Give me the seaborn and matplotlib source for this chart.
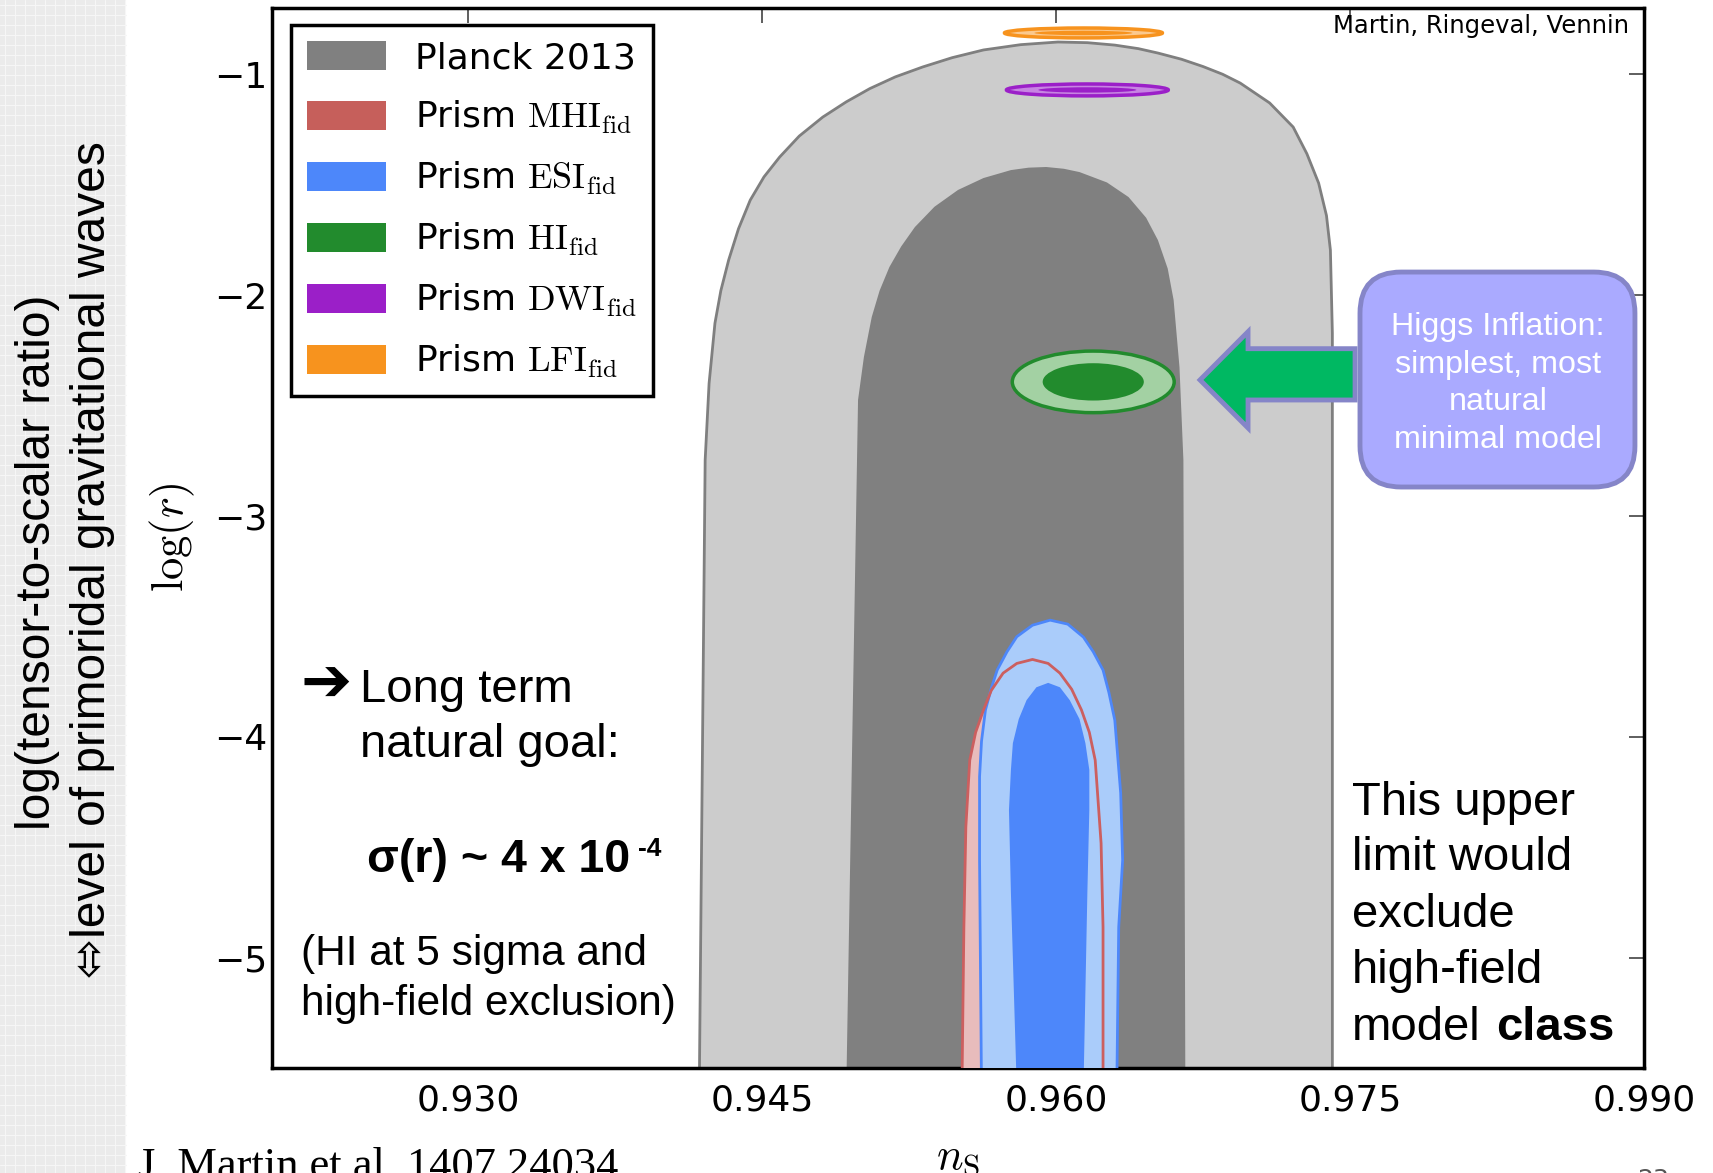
import numpy as np
import matplotlib
matplotlib.use("Agg")
import matplotlib.pyplot as plt
import seaborn as sns
from matplotlib.patches import Ellipse, Patch, Polygon, FancyBboxPatch, Rectangle
from matplotlib.lines import Line2D

W, H = 1713, 1173

# Planck 2013 contours, boundary traced left side (bottom->top) then right side
planck95_ns = [0.9418, 0.9421, 0.9423, 0.9426, 0.9429, 0.9433, 0.9438, 0.9444, 0.9451, 0.9459,
               0.9469, 0.9481, 0.9493, 0.9505, 0.9518, 0.9532, 0.9547, 0.9563, 0.9582, 0.9601,
               0.9616, 0.9630, 0.9642, 0.9652, 0.9664, 0.9675, 0.9685, 0.9694, 0.9709, 0.9721,
               0.9728, 0.9734, 0.9738, 0.9740, 0.9741, 0.9741]
planck95_logr = [-5.6, -2.747, -2.40, -2.127, -1.98, -1.841, -1.70, -1.570, -1.465, -1.375,
                 -1.28, -1.194, -1.125, -1.065, -1.012, -0.967, -0.925, -0.890, -0.866, -0.854,
                 -0.857, -0.868, -0.884, -0.904, -0.932, -0.965, -1.00, -1.040, -1.13, -1.239,
                 -1.36, -1.493, -1.64, -1.796, -2.172, -5.6]
planck68_ns = [0.9493, 0.9499, 0.9502, 0.9506, 0.9510, 0.9515, 0.9521, 0.9528, 0.9538, 0.9550,
               0.9563, 0.9577, 0.9586, 0.9595, 0.9604, 0.9612, 0.9626, 0.9637, 0.9646, 0.9652,
               0.9657, 0.9660, 0.9663, 0.9665, 0.9666]
planck68_logr = [-5.6, -2.475, -2.28, -2.099, -1.98, -1.873, -1.78, -1.692, -1.60, -1.524,
                 -1.47, -1.434, -1.423, -1.420, -1.428, -1.443, -1.49, -1.556, -1.65, -1.751,
                 -1.88, -2.022, -2.326, -2.747, -5.6]

# Prism forecasts
mhi95_ns = [0.9552, 0.9553, 0.9554, 0.9556, 0.9559, 0.9563, 0.9567, 0.9573, 0.9580, 0.9588,
            0.9596, 0.9602, 0.9608, 0.9613, 0.9617, 0.9620, 0.9623, 0.9624, 0.9624]
mhi95_logr = [-5.6, -4.862, -4.409, -4.106, -3.98, -3.879, -3.79, -3.712, -3.668, -3.650,
              -3.668, -3.712, -3.785, -3.879, -3.98, -4.106, -4.482, -4.862, -5.6]
esi95_ns = [0.9562, 0.9561, 0.9561, 0.9562, 0.9564, 0.9567, 0.9570, 0.9575, 0.9580, 0.9588,
            0.9597, 0.9606, 0.9614, 0.9619, 0.9624, 0.9627, 0.9630, 0.9633, 0.9634, 0.9632,
            0.9631]
esi95_logr = [-5.6, -4.559, -4.181, -4.02, -3.879, -3.78, -3.698, -3.615, -3.547, -3.495,
              -3.472, -3.490, -3.549, -3.615, -3.698, -3.80, -3.925, -4.255, -4.559, -4.862,
              -5.6]
esi68_ns = [0.9580, 0.9577, 0.9576, 0.9577, 0.9578, 0.9581, 0.9585, 0.9590, 0.9596, 0.9602,
            0.9607, 0.9612, 0.9615, 0.9617, 0.9617, 0.9616, 0.9614]
esi68_logr = [-5.6, -4.708, -4.332, -4.15, -4.029, -3.92, -3.834, -3.776, -3.756, -3.776,
              -3.834, -3.92, -4.029, -4.15, -4.332, -4.708, -5.6]

# ellipse forecasts: centre n_s, centre log r, widths/heights (95%, 68%)
ell_names = ["HI", "DWI", "LFI"]
ell_ns = [0.9619, 0.9616, 0.9614]
ell_logr = [-2.393, -1.071, -0.813]
ell_w95 = [0.00826, 0.00826, 0.00806]
ell_h95 = [0.279, 0.054, 0.045]
ell_w68 = [0.00516, 0.0050, 0.0050]
ell_h68 = [0.169, 0.024, 0.020]
ell_dark = ["#228b2d", "#9b1fc8", "#f7931e"]
ell_light = ["#a3d1a3", "#c784e2", "#fbc98e"]

legend_labels = ["Planck 2013",
                 r"Prism $\mathrm{MHI}_{\mathrm{fid}}$",
                 r"Prism $\mathrm{ESI}_{\mathrm{fid}}$",
                 r"Prism $\mathrm{HI}_{\mathrm{fid}}$",
                 r"Prism $\mathrm{DWI}_{\mathrm{fid}}$",
                 r"Prism $\mathrm{LFI}_{\mathrm{fid}}$"]
legend_colors = ["#808080", "#c65f5b", "#4d87fa", "#228b2d", "#9b1fc8", "#f7931e"]

xticks = [0.930, 0.945, 0.960, 0.975, 0.990]
yticks = [-1, -2, -3, -4, -5]

sns.set_theme(style="white")
plt.rcParams["font.family"] = ["DejaVu Sans"]
plt.rcParams["mathtext.fontset"] = "cm"
plt.rcParams["text.color"] = "black"
plt.rcParams["axes.labelcolor"] = "black"
SANS = ["Liberation Sans", "DejaVu Sans"]


def fx(px):
    return px / W


def fy(py):
    return 1 - py / H


fig = plt.figure(figsize=(W / 100, H / 100), dpi=100, facecolor="white")

# slide background strip on the left
fig.patches.append(Rectangle((0, 0), 126 / W, 1, transform=fig.transFigure,
                             facecolor="#ebebeb", edgecolor="none", zorder=-10))
for gx in np.arange(5, 126, 10):
    fig.add_artist(Line2D([fx(gx), fx(gx)], [0, 1], color="#f6f6f6", lw=0.8, zorder=-9))
for gy in np.arange(5, H, 10):
    fig.add_artist(Line2D([0, fx(126)], [fy(gy), fy(gy)], color="#f6f6f6", lw=0.8, zorder=-9))

ax = fig.add_axes([272 / W, 1 - 1068 / H, 1372 / W, 1060 / H])
ax.set_facecolor("white")

ax.fill(planck95_ns, planck95_logr, facecolor="#cccccc", edgecolor="#7f7f7f", lw=2, zorder=1)
ax.fill(planck68_ns, planck68_logr, facecolor="#808080", edgecolor="none", zorder=2)

ax.fill(mhi95_ns, mhi95_logr, facecolor="#e8bcbc", edgecolor="none", zorder=3)
ax.fill(esi95_ns, esi95_logr, facecolor="#aaccfa", edgecolor="#4d87fa", lw=2, zorder=4)
ax.fill(esi68_ns, esi68_logr, facecolor="#4d87fa", edgecolor="none", zorder=5)
ax.plot(mhi95_ns, mhi95_logr, color="#cc5f5f", lw=2, zorder=6)

for i in range(len(ell_names)):
    ax.add_patch(Ellipse((ell_ns[i], ell_logr[i]), ell_w95[i], ell_h95[i],
                         facecolor=ell_light[i], edgecolor=ell_dark[i], lw=2.5, zorder=7))
    ax.add_patch(Ellipse((ell_ns[i], ell_logr[i]), ell_w68[i], ell_h68[i],
                         facecolor=ell_dark[i], edgecolor="none", zorder=7))

ax.set_xlim(0.92, 0.99)
ax.set_ylim(-5.5, -0.7)
ax.set_xticks(xticks)
ax.set_xticklabels(["%.3f" % t for t in xticks])
ax.set_yticks(yticks)
ax.tick_params(direction="in", top=True, right=True, length=11, width=1.1,
               color="#333333", labelsize=26, labelcolor="black")
ax.tick_params(axis="x", pad=11)
ax.tick_params(axis="y", pad=3.5)
for s in ax.spines.values():
    s.set_linewidth(2.5)
    s.set_color("black")

ax.set_xlabel(r"$n_{\rm S}$", fontsize=32)
ax.xaxis.set_label_coords(0.5, -0.064)
ax.set_ylabel(r"$\log(r)$", fontsize=32)
ax.yaxis.set_label_coords(-0.055, 0.5)

handles = [Patch(facecolor=c, edgecolor="none") for c in legend_colors]
leg = ax.legend(handles, legend_labels, loc="upper left", bbox_to_anchor=(0.0136, 0.984),
                borderaxespad=0, fontsize=26, frameon=True, fancybox=False, framealpha=1,
                edgecolor="black", handlelength=2.2, handleheight=0.85, handletextpad=0.8,
                labelspacing=0.66, borderpad=0.45)
leg.get_frame().set_linewidth(2.5)
leg.set_zorder(20)

ax.text(1 - 15 / 1372, 1 - 6 / 1060, "Martin, Ringeval, Vennin", transform=ax.transAxes,
        ha="right", va="top", fontsize=17.5, zorder=20)

# call-out arrow and box for Higgs inflation
arrow_pts = [(0.6764, 0.6491), (0.7114, 0.6946), (0.7114, 0.6786), (0.7894, 0.6786),
             (0.7894, 0.6302), (0.7114, 0.6302), (0.7114, 0.6038)]
ax.add_patch(Polygon(arrow_pts, closed=True, transform=ax.transAxes, facecolor="#00b862",
                     edgecolor="#8585c8", lw=3.5, zorder=8, clip_on=False))
ax.add_patch(FancyBboxPatch((0.7930, 0.5481), 0.2004, 0.2028, transform=ax.transAxes,
                            boxstyle="round,pad=0,rounding_size=0.03",
                            mutation_aspect=1372 / 1060, facecolor="#aaaaff",
                            edgecolor="#8585c8", lw=3.5, zorder=9, clip_on=False))
for line, b in zip(["Higgs Inflation:", "simplest, most", "natural", "minimal model"],
                   [335, 373, 410, 448]):
    fig.text(fx(1498), fy(b), line, ha="center", va="baseline", color="white",
             fontsize=23.2, family=SANS)

# slide annotations
fig.text(fx(38), fy(562), "log(tensor-to-scalar ratio)", rotation=90, ha="center",
         va="center", fontsize=34.5, family=SANS)
fig.text(fx(93), fy(560), "\u2b04level of primoridal gravitational waves", rotation=90,
         ha="center", va="center", fontsize=34.5, family=SANS)

fig.text(fx(300), fy(685), "\u2794", fontsize=44, family=["DejaVu Sans"], fontweight="bold",
         va="center")
fig.text(fx(360), fy(702), "Long term", fontsize=34, family=SANS, va="baseline")
fig.text(fx(360), fy(757), "natural goal:", fontsize=34, family=SANS, va="baseline")
fig.text(fx(367), fy(872), "\u03c3(r) ~ 4 x 10", fontsize=33.5, family=SANS,
         fontweight="bold", va="baseline")
fig.text(fx(638), fy(856), "-4", fontsize=19, family=SANS, fontweight="bold", va="baseline")
fig.text(fx(301), fy(965), "(HI at 5 sigma and", fontsize=30.5, family=SANS, va="baseline")
fig.text(fx(301), fy(1015), "high-field exclusion)", fontsize=30.5, family=SANS, va="baseline")

for line, b in zip(["This upper", "limit would", "exclude", "high-field", "model"],
                   [815, 870, 927, 983, 1040]):
    fig.text(fx(1352), fy(b), line, fontsize=34, family=SANS, va="baseline")
fig.text(fx(1496), fy(1040), "class", fontsize=34, family=SANS, fontweight="bold",
         va="baseline")

fig.text(fx(138), fy(1178), "J. Martin et al. 1407.24034", fontsize=32,
         family=["Liberation Serif", "DejaVu Serif"], va="baseline")
fig.text(fx(1637), fy(1168), "23", fontsize=18, color="#555555", va="top")

fig.savefig("out.png", dpi=100)
